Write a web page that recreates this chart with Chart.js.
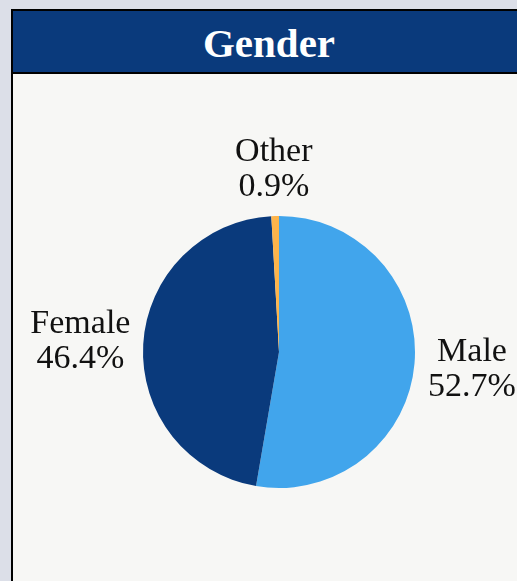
<!DOCTYPE html>
<html>
<head>
<meta charset="utf-8">
<script src="https://cdn.jsdelivr.net/npm/chart.js@4"></script>
<style>
  html, body { margin: 0; padding: 0; overflow: hidden; }
  body { background: #dcdfe8; width: 517px; height: 581px; position: relative; }
  .panel {
    position: absolute; left: 11px; top: 9px; width: 516px; height: 640px;
    border: 2px solid #000; background: #f7f7f5; box-sizing: border-box;
  }
  .panel h2 {
    margin: 0; height: 63px; line-height: 64px; background: #0a3a7c; color: #fff;
    border-bottom: 2px solid #000; box-sizing: border-box; text-align: center;
    font-family: "Liberation Serif", "DejaVu Serif", serif; font-weight: bold; font-size: 41px;
  }
  .chart-box { position: absolute; left: 0; top: 63px; width: 512px; height: 520px; }
</style>
</head>
<body>
<div class="panel">
  <h2>Gender</h2>
  <div class="chart-box"><canvas id="genderPie"></canvas></div>
</div>
<script>
// Gender split (percent)
const genderLabels = ['Male', 'Female', 'Other'];
const genderValues = [52.7, 46.4, 0.9];
const genderColors = ['#41a5ec', '#0a3a7c', '#fdb44b'];

// labels outside each slice: name on top, percent below
const outsideLabels = {
  id: 'outsideLabels',
  afterDatasetsDraw(chart) {
    const ctx = chart.ctx;
    const meta = chart.getDatasetMeta(0);
    const fontSize = 34, lineH = 35, gap = 11;
    ctx.save();
    ctx.font = fontSize + 'px "Liberation Serif", "DejaVu Serif", serif';
    ctx.fillStyle = '#111';
    ctx.textAlign = 'center';
    ctx.textBaseline = 'middle';
    meta.data.forEach((arc, i) => {
      const p = arc.getProps(['x', 'y', 'startAngle', 'endAngle', 'outerRadius'], true);
      const mid = (p.startAngle + p.endAngle) / 2;
      const lines = [genderLabels[i], genderValues[i].toFixed(1) + '%'];
      const w = Math.max(...lines.map(t => ctx.measureText(t).width));
      const h = lines.length * lineH;
      const c = Math.cos(mid), s = Math.sin(mid);
      const d = p.outerRadius + gap + Math.abs(c) * w / 2 + Math.abs(s) * h / 2;
      const cx = p.x + c * d, cy = p.y + s * d;
      lines.forEach((t, k) => {
        ctx.fillText(t, cx, cy - h / 2 + lineH * (k + 0.5) + 1);
      });
    });
    ctx.restore();
  }
};

const ctx = document.getElementById('genderPie').getContext('2d');
new Chart(ctx, {
  type: 'pie',
  data: {
    labels: genderLabels,
    datasets: [{
      data: genderValues,
      backgroundColor: genderColors,
      borderWidth: 0
    }]
  },
  options: {
    responsive: true,
    maintainAspectRatio: false,
    animation: false,
    layout: { padding: { left: 130, right: 110, top: 142, bottom: 106 } },
    plugins: {
      legend: { display: false },
      tooltip: { enabled: false }
    }
  },
  plugins: [outsideLabels]
});
</script>
</body>
</html>
